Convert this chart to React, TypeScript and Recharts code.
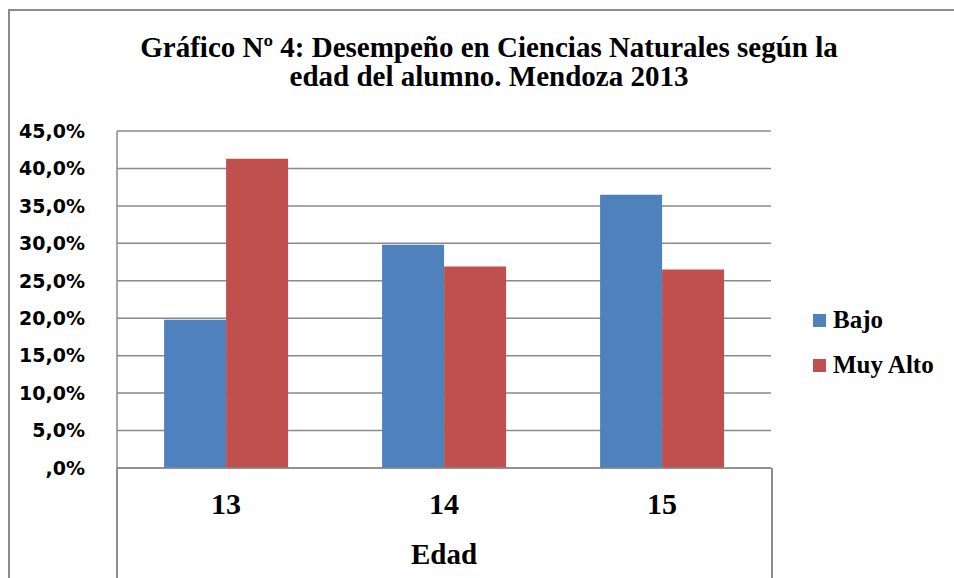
import { BarChart, Bar, XAxis, YAxis, CartesianGrid, Legend, Label } from 'recharts';

const edades = ['13', '14', '15'];
const bajo = [19.8, 29.8, 36.5];
const muyAlto = [41.3, 26.9, 26.5];
const yTicks = [0, 5, 10, 15, 20, 25, 30, 35, 40, 45];

const chartData = edades.map((edad, i) => ({
  edad,
  bajo: bajo[i],
  muyAlto: muyAlto[i],
}));

const GRID = '#8a8a8a';
const SERIF = '"Liberation Serif", "Times New Roman", serif';

const fmtPct = (v: number) => (v === 0 ? ',0%' : `${v.toFixed(1).replace('.', ',')}%`);

function EdadTick({ x, y, payload }: any) {
  return (
    <text x={x} y={y + 38} textAnchor="middle" fontFamily={SERIF} fontWeight="bold" fontSize={30} fill="#000">
      {payload.value}
    </text>
  );
}

function renderLegend({ payload }: any) {
  return (
    <div style={{ fontFamily: SERIF, fontWeight: 'bold', fontSize: 25, color: '#000' }}>
      {(payload || []).map((p: any) => (
        <div key={p.value} style={{ display: 'flex', alignItems: 'center', height: 44.7 }}>
          <span style={{ width: 13, height: 13, background: p.color, marginRight: 7 }} />
          <span>{p.value}</span>
        </div>
      ))}
    </div>
  );
}

export default function App() {
  return (
    <div style={{ position: 'absolute', left: 0, top: 0, width: 954, height: 578, background: '#fff', overflow: 'hidden' }}>
      {/* outer chart border (top + left only visible) */}
      <div style={{ position: 'absolute', left: 8, top: 9, width: 946, height: 569, borderTop: '2px solid #8c8c8c', borderLeft: '2px solid #8c8c8c' }} />
      <div
        style={{
          position: 'absolute',
          left: 0,
          width: 978,
          top: 33,
          textAlign: 'center',
          fontFamily: SERIF,
          fontWeight: 'bold',
          fontSize: 29,
          lineHeight: '29px',
          color: '#000',
        }}
      >
        Gráfico Nº 4: Desempeño en Ciencias Naturales según la
        <br />
        edad del alumno. Mendoza 2013
      </div>
      {/* category box below the plot */}
      <div style={{ position: 'absolute', left: 116, top: 468, width: 653, height: 120, borderLeft: '2px solid #8c8c8c', borderRight: '2px solid #8c8c8c' }} />
      <BarChart
        width={954}
        height={578}
        data={chartData}
        margin={{ top: 131, right: 183, bottom: 0, left: 0 }}
        barCategoryGap="21.6%"
        barGap={0}
        style={{ position: 'absolute', left: 0, top: 0 }}
      >
        <CartesianGrid vertical={false} stroke={GRID} strokeWidth={1.5} />
        <YAxis
          width={117}
          domain={[0, 45]}
          ticks={yTicks}
          interval={0}
          tickFormatter={fmtPct}
          tickLine={false}
          axisLine={{ stroke: GRID, strokeWidth: 1.5 }}
          tick={{ fill: '#000', fontFamily: '"DejaVu Sans", sans-serif', fontWeight: 'bold', fontSize: 19 }}
          tickMargin={26}
        />
        <XAxis
          dataKey="edad"
          height={110}
          tickLine={false}
          axisLine={{ stroke: GRID, strokeWidth: 1.5 }}
          tick={<EdadTick />}
        >
          <Label
            value="Edad"
            position="insideBottom"
            offset={14}
            style={{ fontFamily: SERIF, fontWeight: 'bold', fontSize: 29, fill: '#000' }}
          />
        </XAxis>
        <Legend
          layout="vertical"
          verticalAlign="middle"
          align="center"
          content={renderLegend}
          wrapperStyle={{ position: 'absolute', left: 813, top: 298, width: 140 }}
        />
        <Bar dataKey="bajo" name="Bajo" fill="#4F81BD" isAnimationActive={false} />
        <Bar dataKey="muyAlto" name="Muy Alto" fill="#C0504D" isAnimationActive={false} />
      </BarChart>
    </div>
  );
}
